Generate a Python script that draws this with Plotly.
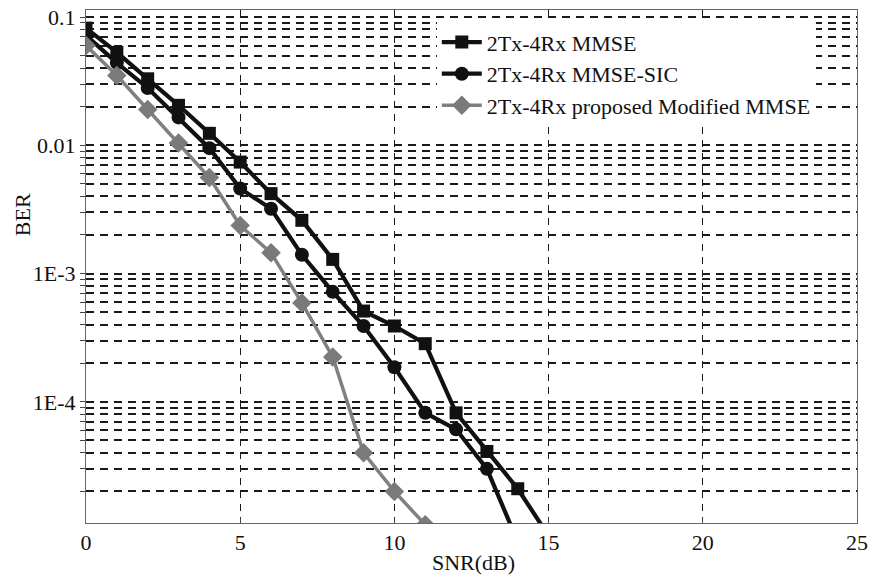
import plotly.graph_objects as go
import numpy as np

snr_mmse = [0, 1, 2, 3, 4, 5, 6, 7, 8, 9, 10, 11, 12, 13, 14, 15]
ber_mmse = [0.082, 0.053, 0.033, 0.0205, 0.0124, 0.0074, 0.0042, 0.0026, 0.00129,
            0.00051, 0.00039, 0.000284, 8.2e-5, 4.1e-5, 2.1e-5, 9e-6]

snr_sic = [0, 1, 2, 3, 4, 5, 6, 7, 8, 9, 10, 11, 12, 13, 14]
ber_sic = [0.072, 0.044, 0.028, 0.0165, 0.0095, 0.0046, 0.0032, 0.0014, 0.00072,
           0.00039, 0.000186, 8.2e-5, 6.1e-5, 3.0e-5, 8.1e-6]

snr_mod = [0, 1, 2, 3, 4, 5, 6, 7, 8, 9, 10, 11]
ber_mod = [0.060, 0.035, 0.019, 0.0104, 0.0056, 0.00237, 0.00145, 0.00059, 0.000224,
           4.0e-5, 2.0e-5, 1.1e-5]

names = ["2Tx-4Rx MMSE", "2Tx-4Rx MMSE-SIC", "2Tx-4Rx proposed Modified MMSE"]
x_ticks = [0, 5, 10, 15, 20, 25]
y_major = [0.1, 0.01, 1e-3, 1e-4]
y_major_text = ["0.1", "0.01", "1E-3", "1E-4"]

FONT = "Liberation Serif, Times New Roman, serif"

# y tick positions: decades labelled, 2..9 multiples unlabelled
y_vals, y_text = [], []
for e in range(-5, 0):
    for m in range(1, 10):
        v = m * 10.0 ** e
        y_vals.append(v)
        lbl = ""
        if m == 1:
            for mv, t in zip(y_major, y_major_text):
                if abs(np.log10(mv) - np.log10(v)) < 1e-9:
                    lbl = t
        y_text.append(lbl)

fig = go.Figure()
fig.add_trace(go.Scatter(x=snr_mmse, y=ber_mmse, name=names[0], mode="lines+markers",
                         line=dict(color="#111111", width=4.2),
                         marker=dict(symbol="square", size=13, color="#111111")))
fig.add_trace(go.Scatter(x=snr_sic, y=ber_sic, name=names[1], mode="lines+markers",
                         line=dict(color="#111111", width=4.2),
                         marker=dict(symbol="circle", size=14, color="#111111")))
fig.add_trace(go.Scatter(x=snr_mod, y=ber_mod, name=names[2], mode="lines+markers",
                         line=dict(color="#808080", width=3.5),
                         marker=dict(symbol="diamond", size=15, color="#7a7a7a")))

fig.update_layout(
    width=872, height=578,
    margin=dict(l=86, r=15, t=10, b=55),
    plot_bgcolor="white", paper_bgcolor="white",
    font=dict(family=FONT, size=22, color="#111111"),
    showlegend=True,
    legend=dict(x=0.455, y=0.978, xanchor="left", yanchor="top",
                bgcolor="white", borderwidth=0,
                font=dict(family=FONT, size=22, color="#111111"),
                tracegroupgap=0, itemwidth=40),
)
fig.update_xaxes(range=[0, 25], tickvals=x_ticks, ticktext=[str(v) for v in x_ticks],
                 showgrid=True, gridcolor="#1a1a1a", gridwidth=1.4, griddash="7px,6px",
                 showline=True, linecolor="#666666", linewidth=1, mirror=True,
                 ticks="inside", ticklen=5, tickcolor="#444444", automargin=False,
                 zeroline=False, tickfont=dict(size=22))
fig.update_yaxes(type="log", range=[np.log10(1.135e-5), np.log10(0.1135)],
                 tickvals=y_vals, ticktext=y_text, automargin=False,
                 showgrid=True, gridcolor="#1a1a1a", gridwidth=1.8, griddash="8px,6px",
                 showline=True, linecolor="#666666", linewidth=1, mirror=True,
                 ticks="outside", ticklen=5, tickcolor="#444444",
                 zeroline=False, tickfont=dict(size=22))

fig.add_annotation(text="BER", textangle=-90, xref="paper", yref="paper",
                   x=-0.083, y=0.60, showarrow=False, font=dict(size=22, family=FONT),
                   xanchor="center", yanchor="middle")
fig.add_annotation(text="SNR(dB)", xref="paper", yref="paper",
                   x=0.502, y=-0.077, showarrow=False, font=dict(size=22, family=FONT),
                   xanchor="center", yanchor="middle")

fig.write_html("out.html", config={"displayModeBar": False},
               post_script="document.body.style.margin='0px';")
